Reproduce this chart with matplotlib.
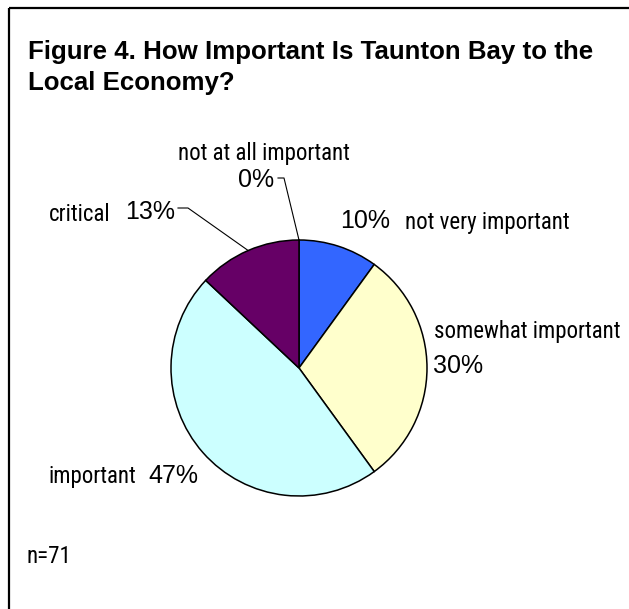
import numpy as np
import matplotlib.pyplot as plt
from matplotlib import font_manager
from matplotlib.patches import Rectangle

# survey answers, clockwise from 12 o'clock
categories = ['not at all important', 'not very important', 'somewhat important', 'important', 'critical']
percents = [0, 10, 30, 47, 13]
colors = ['#FFFFFF', '#3366FF', '#FFFFCC', '#CCFFFF', '#660066']
n_responses = 71
title = 'Figure 4. How Important Is Taunton Bay to the\nLocal Economy?'

# labels in the original use a narrow face; take one if present
names = {f.name for f in font_manager.fontManager.ttflist}
narrow = None
for cand in ['Liberation Sans Narrow', 'Arial Narrow', 'Roboto Condensed', 'Open Sans Condensed']:
    if cand in names:
        narrow = cand
        break
if narrow:
    lab_font = dict(family=[narrow, 'Liberation Sans'], fontsize=16.5)
else:
    lab_font = dict(family=['Liberation Sans'], fontsize=15)
pct_font = dict(family=['Liberation Sans'], fontsize=18)

W, H = 629, 609
fig = plt.figure(figsize=(W / 100, H / 100), dpi=100)
ax = fig.add_axes([0, 0, 1, 1])

# outer frame (right and bottom edges fall outside the picture)
ax.add_patch(Rectangle((9, 7.5), 700, 700, fill=False, lw=1.6, ec='black'))

cx, cy, r = 299, 368, 128
wedges, _ = ax.pie(percents, colors=colors, startangle=-90, counterclock=True,
                   center=(cx, cy), radius=r, frame=True,
                   wedgeprops=dict(edgecolor='black', linewidth=1.1))
ax.set_xlim(0, W)
ax.set_ylim(H, 0)  # pixel coords, y down
ax.set_aspect('equal')
ax.axis('off')

def edge_point(w):
    a = np.deg2rad((w.theta1 + w.theta2) / 2)
    return cx + r * np.cos(a), cy + r * np.sin(a)

ax.text(28, 90, title, fontsize=18.6, fontweight='bold', family=['Liberation Sans'],
        va='baseline', linespacing=1.38)

# not at all important
ax.text(264, 160, categories[0], va='baseline', ha='center', **lab_font)
ax.text(238, 187, f'{percents[0]}%', va='baseline', **pct_font)
ex, ey = edge_point(wedges[0])
ax.plot([278, 284, ex], [178, 178, ey], color='black', lw=0.8)

# not very important
ax.text(340, 228, f'{percents[1]}%', va='baseline', **pct_font)
ax.text(405, 229, categories[1], va='baseline', **lab_font)

# somewhat important
ax.text(434, 338, categories[2], va='baseline', **lab_font)
ax.text(433, 373, f'{percents[2]}%', va='baseline', **pct_font)

# important
ax.text(48, 483, categories[3], va='baseline', **lab_font)
ax.text(148, 483, f'{percents[3]}%', va='baseline', **pct_font)

# critical
ax.text(111, 221, categories[4], va='baseline', ha='right', **lab_font)
ax.text(125, 219, f'{percents[4]}%', va='baseline', **pct_font)
ex, ey = edge_point(wedges[4])
ax.plot([178, 188, ex], [208, 208, ey], color='black', lw=0.8)

ax.text(27, 563, f'n={n_responses}', va='baseline', **lab_font)

fig.savefig('out.png', dpi=100)
